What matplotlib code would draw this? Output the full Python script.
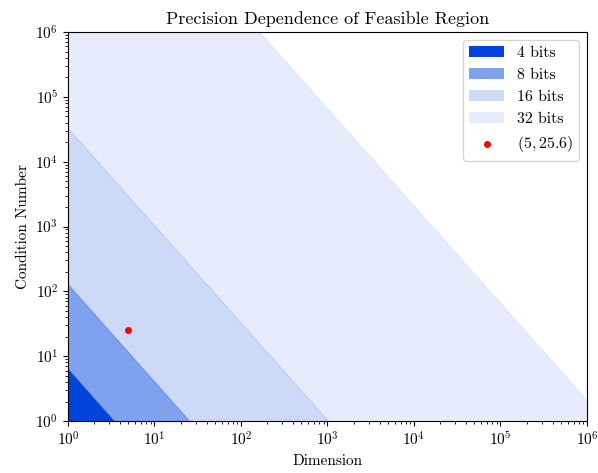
import numpy as np
import matplotlib
matplotlib.use('Agg')
import matplotlib.pyplot as plt

plt.rcParams['font.family'] = 'serif'
plt.rcParams['font.serif'] = ['cmr10']
plt.rcParams['mathtext.fontset'] = 'cm'
plt.rcParams['axes.formatter.use_mathtext'] = True

# feasible region boundaries, straight lines in log-log space
bits = [4, 8, 16, 32]
kappa_at_n1 = [6.3, 128, 32768, 2.1e9]     # condition number where dimension = 1
n_at_kappa1 = [3.4, 25.4, 1024, 1.64e6]    # dimension where condition number = 1
alphas = [1.0, 0.5, 0.2, 0.1]
base = np.array([0, 68, 221]) / 255

point_n, point_kappa = 5, 25.6

fig = plt.figure(figsize=(5.98, 4.73), dpi=100)
ax = fig.add_axes([0.1137, 0.1099, 0.9816 - 0.1137, 0.9323 - 0.1099])

for b, k1, n1, a in reversed(list(zip(bits, kappa_at_n1, n_at_kappa1, alphas))):
    face = 1 - a * (1 - base)
    ax.fill([1, 1, n1], [1, k1, 1], color=face, lw=0, label=f'{b} bits')
    ax.plot([1, n1], [k1, 1], color=base, alpha=a * 0.6, lw=0.8)

ax.scatter([point_n], [point_kappa], color='red', s=16, zorder=5,
           label=f'$({point_n}, {point_kappa})$')

ax.set_xscale('log')
ax.set_yscale('log')
ax.set_xlim(1, 1e6)
ax.set_ylim(1, 1e6)
ax.set_xlabel('Dimension', fontsize=11)
ax.set_ylabel('Condition Number', fontsize=11)
ax.set_title('Precision Dependence of Feasible Region', fontsize=13)
ax.tick_params(labelsize=11)

h, l = ax.get_legend_handles_labels()
order = [3, 2, 1, 0, 4]
ax.legend([h[i] for i in order], [l[i] for i in order], loc='upper right',
          fontsize=11.4, handlelength=2.2)

fig.savefig('out.png', dpi=100)
